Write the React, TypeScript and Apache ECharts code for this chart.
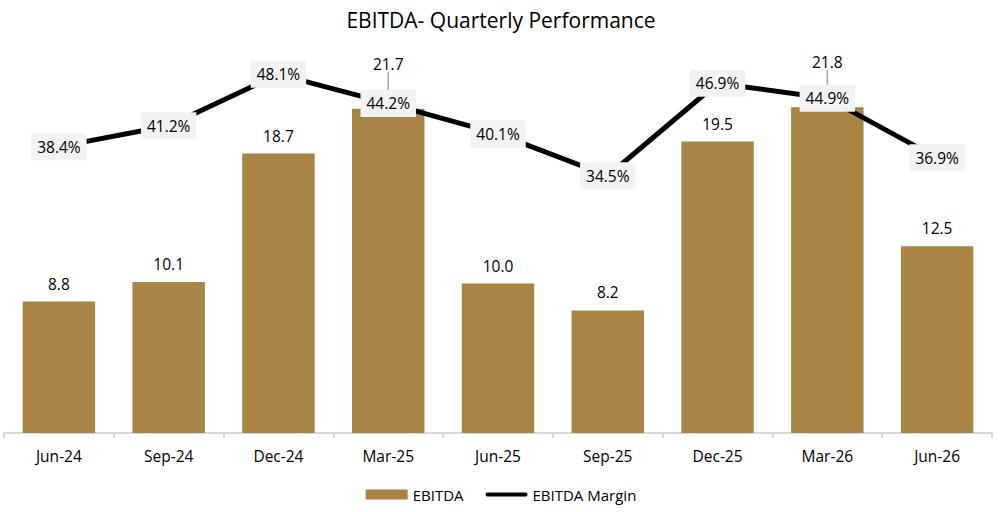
import React, { useEffect, useRef } from "react";
import * as echarts from "echarts";

const categories = ["Jun-24", "Sep-24", "Dec-24", "Mar-25", "Jun-25", "Sep-25", "Dec-25", "Mar-26", "Jun-26"];
const ebitda = [8.8, 10.1, 18.7, 21.7, 10.0, 8.2, 19.5, 21.8, 12.5];
const margin = [38.4, 41.2, 48.1, 44.2, 40.1, 34.5, 46.9, 44.9, 36.9];
const liftedLabels = [3, 7];

const FONT = "'Open Sans', 'Noto Sans', sans-serif";

export default function App() {
  const ref = useRef<HTMLDivElement>(null);
  useEffect(() => {
    if (!ref.current) return;
    const chart = echarts.init(ref.current, null, { renderer: "svg" });
    const barData = ebitda.map((v, i) => ({
      value: v,
      labelLine: { show: liftedLabels.includes(i) },
    }));
    chart.setOption({
      animation: false,
      backgroundColor: "#ffffff",
      title: {
        text: "EBITDA- Quarterly Performance",
        left: "center",
        top: 4,
        textStyle: { fontFamily: FONT, fontSize: 21, fontWeight: "normal", color: "#000" },
      },
      legend: {
        bottom: 5,
        left: "center",
        itemGap: 22,
        textStyle: { fontFamily: FONT, fontSize: 15, color: "#000" },
        data: [
          { name: "EBITDA", icon: "rect", itemStyle: { color: "#A98545" } },
          {
            name: "EBITDA Margin",
            icon: "path://M2,0 L42,0 A2,2 0 0 1 42,4 L2,4 A2,2 0 0 1 2,0 Z",
            itemStyle: { color: "#000", borderWidth: 0 },
          },
        ],
        itemWidth: 42,
        itemHeight: 10,
      },
      grid: { left: 4, right: 10, top: 40, bottom: 79, containLabel: false },
      xAxis: {
        type: "category",
        data: categories,
        axisLine: { lineStyle: { color: "#d9d9d9", width: 2 } },
        axisTick: { show: true, alignWithLabel: false, length: 5, lineStyle: { color: "#d9d9d9", width: 2 } },
        axisLabel: { fontFamily: FONT, fontSize: 15.5, color: "#000", margin: 15 },
      },
      yAxis: [
        { type: "value", min: 0, max: 26.3, show: false, splitLine: { show: false } },
        { type: "value", min: 0, max: 52.7, show: false, splitLine: { show: false } },
      ],
      series: [
        {
          name: "EBITDA",
          type: "bar",
          data: barData,
          barWidth: "66%",
          itemStyle: { color: "#A98545" },
          label: {
            show: true,
            position: "top",
            distance: 10,
            formatter: (p: any) => p.value.toFixed(1),
            fontFamily: FONT,
            fontSize: 15.5,
            color: "#000",
          },
          labelLine: { show: false, lineStyle: { color: "#a6a6a6", width: 1.5 } },
          labelLayout: (p: any) => (liftedLabels.includes(p.dataIndex) ? { dy: -27 } : {}),
          z: 2,
        },
        {
          name: "EBITDA Margin",
          type: "line",
          yAxisIndex: 1,
          data: margin,
          symbol: "circle",
          symbolSize: 1,
          showSymbol: true,
          lineStyle: { color: "#000", width: 5 },
          itemStyle: { color: "#000" },
          label: {
            show: true,
            position: "inside",
            formatter: (p: any) => p.value.toFixed(1) + "%",
            fontFamily: FONT,
            fontSize: 15.5,
            color: "#000",
            backgroundColor: "#F2F2F2",
            padding: [6, 6, 5, 6],
          },
          z: 3,
        },
      ],
    });
    return () => chart.dispose();
  }, []);
  return (
    <div
      ref={ref}
      style={{ position: "absolute", left: 0, top: 0, width: 1002, height: 512, background: "#fff" }}
    />
  );
}
